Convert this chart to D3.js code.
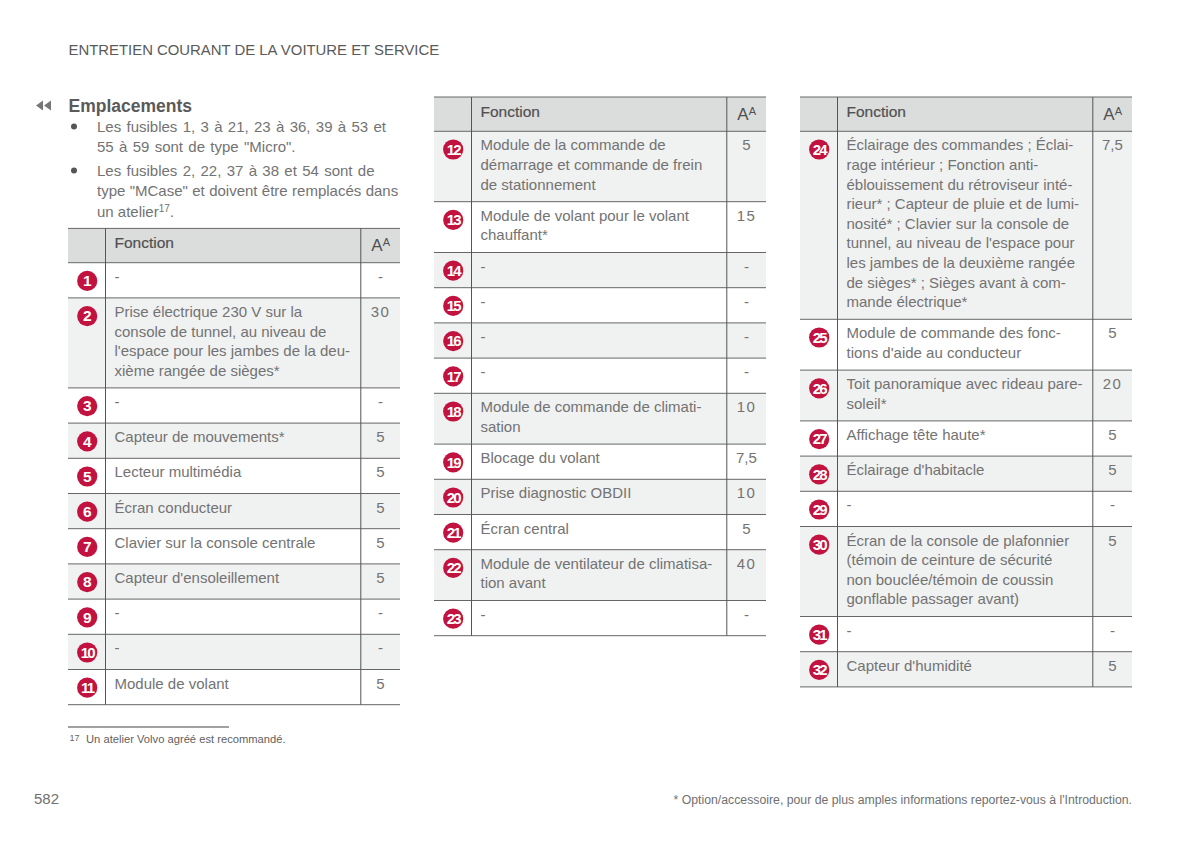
<!DOCTYPE html>
<html><head><meta charset="utf-8">
<script src="https://cdn.jsdelivr.net/npm/d3@7/dist/d3.min.js"></script>
<style>html,body{margin:0;padding:0;background:#fff}svg{display:block}text{font-family:"Liberation Sans",Arial,sans-serif}</style>
</head><body><div id="c"></div>
<script>
const pageTitle = "ENTRETIEN COURANT DE LA VOITURE ET SERVICE";
const sectionTitle = "Emplacements";
const bulletOne = ['Les fusibles 1, 3 à 21, 23 à 36, 39 à 53 et', '55 à 59 sont de type "Micro".'];
const bulletTwo = ['Les fusibles 2, 22, 37 à 38 et 54 sont de', 'type "MCase" et doivent être remplacés dans'];
const headerLabel = "Fonction";
const footnote = "Un atelier Volvo agréé est recommandé.";
const pageNumber = "582";
const optionNote = "* Option/accessoire, pour de plus amples informations reportez-vous à l'Introduction.";

const tableOneIds = [1,2,3,4,5,6,7,8,9,10,11];
const tableOneText = [["-"],["Prise électrique 230 V sur la","console de tunnel, au niveau de","l'espace pour les jambes de la deu-","xième rangée de sièges*"],["-"],["Capteur de mouvements*"],["Lecteur multimédia"],["Écran conducteur"],["Clavier sur la console centrale"],["Capteur d'ensoleillement"],["-"],["-"],["Module de volant"]];
const tableOneAmps = ["-","30","-","5","5","5","5","5","-","-","5"];

const tableTwoIds = [12,13,14,15,16,17,18,19,20,21,22,23];
const tableTwoText = [["Module de la commande de","démarrage et commande de frein","de stationnement"],["Module de volant pour le volant","chauffant*"],["-"],["-"],["-"],["-"],["Module de commande de climati-","sation"],["Blocage du volant"],["Prise diagnostic OBDII"],["Écran central"],["Module de ventilateur de climatisa-","tion avant"],["-"]];
const tableTwoAmps = ["5","15","-","-","-","-","10","7,5","10","5","40","-"];

const tableThreeIds = [24,25,26,27,28,29,30,31,32];
const tableThreeText = [["Éclairage des commandes ; Éclai-","rage intérieur ; Fonction anti-","éblouissement du rétroviseur inté-","rieur* ; Capteur de pluie et de lumi-","nosité* ; Clavier sur la console de","tunnel, au niveau de l'espace pour","les jambes de la deuxième rangée","de sièges* ; Sièges avant à com-","mande électrique*"],["Module de commande des fonc-","tions d'aide au conducteur"],["Toit panoramique avec rideau pare-","soleil*"],["Affichage tête haute*"],["Éclairage d'habitacle"],["-"],["Écran de la console de plafonnier","(témoin de ceinture de sécurité","non bouclée/témoin de coussin","gonflable passager avant)"],["-"],["Capteur d'humidité"]];
const tableThreeAmps = ["7,5","5","20","5","5","-","5","-","5"];

const W = 1200, H = 845;
const svg = d3.select("#c").append("svg").attr("width", W).attr("height", H);
const TXT = "#737373", DARK = "#505050", LINE = "#666", RED = "#c2123f";

function T(x, y, s, size, fill, extra) {
  const t = svg.append("text").attr("x", x).attr("y", y).attr("font-size", size).attr("fill", fill).text(s);
  if (extra) extra(t);
  return t;
}

T(68.5, 55, pageTitle, 14.9, "#5a5a5a");
const back = d3.line();
[36,44].forEach(a => svg.append("path").attr("d", back([[a+7,100.5],[a+7,110.5],[a,105.5]])+"Z").attr("fill","#777"));
T(68.5, 112, sectionTitle, 17.5, "#5a5a5a", t => t.attr("font-weight","bold"));

function para(lines, y0) {
  svg.append("circle").attr("cx", 74).attr("cy", y0 - 5.5).attr("r", 3).attr("fill", "#555");
  lines.forEach((l, i) => T(97, y0 + i * 19.6, l, 15, TXT, t => t.attr("word-spacing", /\d/.test(l) ? 1.15 : 0.2)));
}
para(bulletOne, 132);
para(bulletTwo, 176);
const atelier = T(97, 216.5, "un atelier", 15, TXT);
atelier.append("tspan").attr("font-size", 10).attr("dy", -5).text("17");
atelier.append("tspan").attr("dy", 5).text(".");

function table(x0, headTop, ids, texts, amps) {
  const x = d3.scaleOrdinal().domain(["left","fn","amp","right"]).range([x0, x0 + 37.5, x0 + 292.8, x0 + 332]);
  const heights = texts.map(l => l.length === 1 ? 35.2 : 11.6 + 19.6 * l.length);
  const first = headTop + 34.3;
  const tops = d3.cumsum([0, ...heights]).map(v => first + v);
  const yRow = d3.scaleOrdinal().domain(d3.range(tops.length)).range(tops);
  const end = tops[tops.length - 1];

  svg.append("rect").attr("x", x("left")).attr("y", headTop).attr("width", x("right") - x("left")).attr("height", 34.3).attr("fill", "#dbdcdc");
  const g = svg.append("g");
  g.selectAll("rect").data(ids).join("rect")
    .attr("x", x("left")).attr("width", x("right") - x("left"))
    .attr("y", (d, i) => yRow(i)).attr("height", (d, i) => heights[i])
    .attr("fill", (d, i) => i % 2 === (ids[0] % 2 === 1 ? 1 : 0) ? "#f0f1f1" : "#fff");

  [headTop, ...tops].forEach(v => svg.append("line").attr("x1", x("left")).attr("x2", x("right")).attr("y1", v).attr("y2", v).attr("stroke", LINE).attr("stroke-width", 1));
  ["fn","amp"].forEach(k => svg.append("line").attr("x1", x(k)).attr("x2", x(k)).attr("y1", headTop).attr("y2", end).attr("stroke", "#555").attr("stroke-width", 1));

  T(x("fn") + 9, headTop + 20, headerLabel, 15.5, DARK, t => t.attr("stroke", DARK).attr("stroke-width", .2));
  const a = T(x("amp") + 10.5, headTop + 22.5, "A", 17, DARK);
  a.append("tspan").attr("font-size", 11).attr("dy", -5).text("A");

  ids.forEach((id, i) => {
    const top = yRow(i);
    svg.append("circle").attr("cx", x("left") + 19.2).attr("cy", top + 18.2).attr("r", 10.1).attr("fill", RED);
    T(x("left") + 19.2, top + 23.4, id, id > 9 ? 15 : 15.5, "#fff", t => t.attr("text-anchor", "middle").attr("font-weight", "bold").attr("letter-spacing", id > 9 ? -1.8 : 0));
    texts[i].forEach((l, j) => T(x("fn") + 9, top + 19 + j * 19.6, l, 15, TXT));
    T((x("amp") + x("right")) / 2, top + 19, amps[i], 15, TXT, t => t.attr("text-anchor", "middle").attr("letter-spacing", /^\d\d$/.test(amps[i]) ? 1.2 : 0));
  });
}

table(68, 228.4, tableOneIds, tableOneText, tableOneAmps);
table(434, 97, tableTwoIds, tableTwoText, tableTwoAmps);
table(800, 97, tableThreeIds, tableThreeText, tableThreeAmps);

svg.append("line").attr("x1", 68).attr("x2", 229).attr("y1", 727).attr("y2", 727).attr("stroke", "#444");
T(69.5, 741, "17", 9, "#666");
T(86, 743, footnote, 11.2, "#5f5f5f");
T(34, 804, pageNumber, 15, "#707070");
T(1132, 804, optionNote, 12.27, "#707070", t => t.attr("text-anchor", "end"));
</script></body></html>
